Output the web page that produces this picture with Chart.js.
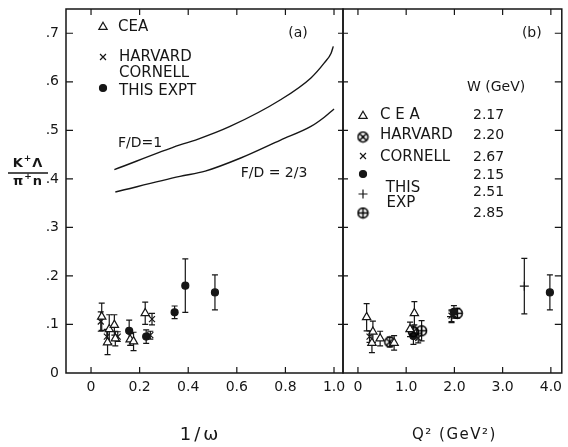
<!DOCTYPE html>
<html>
<head>
<meta charset="utf-8">
<script src="https://cdn.jsdelivr.net/npm/chart.js@4.4.0/dist/chart.umd.min.js"></script>
<style>
html, body { margin: 0; padding: 0; background: #fff; }
#wrap { position: relative; width: 568px; height: 447px; overflow: hidden; }
#boxA { position: absolute; left: 0; top: 0; width: 354px; height: 447px; }
#boxB { position: absolute; left: 333px; top: 0; width: 235px; height: 447px; }
</style>
</head>
<body>
<div id="wrap">
  <div id="boxA"><canvas id="chartA"></canvas></div>
  <div id="boxB"><canvas id="chartB"></canvas></div>
</div>
<script>
// --- panel (a): ratio vs 1/omega ---
const ceaAX = [0.044, 0.075, 0.068, 0.096, 0.100, 0.161, 0.175, 0.223];
const ceaAY = [0.116, 0.090, 0.063, 0.099, 0.071, 0.069, 0.065, 0.123];
const ceaAE = [0.028, 0.030, 0.025, 0.021, 0.015, 0.012, 0.019, 0.023];

const hcAX = [0.040, 0.065, 0.110, 0.244, 0.251];
const hcAY = [0.106, 0.075, 0.075, 0.078, 0.111];
const hcAE = [0.020, 0.015, 0.010, 0.008, 0.012];

const thisAX = [0.157, 0.227, 0.344, 0.388, 0.510];
const thisAY = [0.087, 0.075, 0.125, 0.180, 0.166];
const thisAE = [0.022, 0.014, 0.013, 0.055, 0.036];

// SU(3) curves
const fd1X = [0.096, 0.366, 0.43, 0.572, 0.78, 0.905, 0.96, 0.988, 0.997];
const fd1Y = [0.419, 0.470, 0.480, 0.508, 0.563, 0.608, 0.639, 0.659, 0.673];
const fd23X = [0.10, 0.366, 0.47, 0.616, 0.78, 0.905, 0.96, 1.0];
const fd23Y = [0.373, 0.405, 0.416, 0.443, 0.480, 0.508, 0.527, 0.544];

// --- panel (b): ratio vs Q^2 ---
const ceaBX = [0.18, 0.31, 0.29, 0.46, 0.75, 1.08, 1.17];
const ceaBY = [0.115, 0.085, 0.062, 0.071, 0.062, 0.090, 0.123];
const ceaBE = [0.028, 0.022, 0.020, 0.015, 0.015, 0.015, 0.024];

const harvBX = [0.66, 1.15];
const harvBY = [0.064, 0.085];
const harvBE = [0.010, 0.012];

const cornBX = [0.24, 1.25, 1.94];
const cornBY = [0.075, 0.072, 0.118];
const cornBE = [0.012, 0.010, 0.012];

const t215X = [1.15, 1.99, 3.98];
const t215Y = [0.076, 0.126, 0.166];
const t215E = [0.017, 0.013, 0.036];

const t251X = [1.94, 3.45];
const t251Y = [0.116, 0.179];
const t251E = [0.012, 0.057];

const t285X = [1.32, 2.06];
const t285Y = [0.087, 0.123];
const t285E = [0.021, 0.010];

const yTicks = [0, 0.1, 0.2, 0.3, 0.4, 0.5, 0.6, 0.7];
const xTicksA = [0, 0.2, 0.4, 0.6, 0.8, 1.0];
const xTicksB = [0, 1, 2, 3, 4];

const INK = '#161616';
const FONT = 'DejaVu Sans';
Chart.defaults.font.family = FONT;
Chart.defaults.color = INK;

function ringImage(kind) {
    const c = document.createElement('canvas');
    c.width = 13; c.height = 13;
    const g = c.getContext('2d');
    g.strokeStyle = '#000'; g.lineWidth = 1.5;
    g.beginPath();
    g.arc(6.5, 6.5, 5, 0, Math.PI * 2);
    if (kind === 'x') {
        g.moveTo(3, 3); g.lineTo(10, 10); g.moveTo(10, 3); g.lineTo(3, 10);
    } else {
        g.moveTo(6.5, 1.5); g.lineTo(6.5, 11.5); g.moveTo(1.5, 6.5); g.lineTo(11.5, 6.5);
    }
    g.stroke();
    return c;
}
const otimes = ringImage('x');
const oplus = ringImage('+');

const MARKS = {
    tri: { pointStyle: 'triangle', radius: 4.8, fill: '#fff' },
    cross: { pointStyle: 'crossRot', radius: 4.2, fill: INK },
    dot: { pointStyle: 'circle', radius: 3.5, fill: INK },
    plus: { pointStyle: 'cross', radius: 4.5, fill: INK },
    otimes: { pointStyle: otimes, radius: 5, fill: INK },
    oplus: { pointStyle: oplus, radius: 5, fill: INK }
};

function points(xs, ys, errs, m) {
    return {
        type: 'scatter',
        data: xs.map((x, i) => ({ x, y: ys[i] })),
        errs,
        showLine: false,
        pointStyle: m.pointStyle,
        pointRadius: m.radius,
        pointBackgroundColor: m.fill,
        pointBorderColor: INK,
        pointBorderWidth: 1.2
    };
}

function curve(xs, ys) {
    return {
        type: 'scatter',
        data: xs.map((x, i) => ({ x, y: ys[i] })),
        showLine: true,
        borderColor: INK,
        borderWidth: 1.4,
        pointRadius: 0,
        cubicInterpolationMode: 'monotone'
    };
}

function symbol(ctx, m, x, y) {
    ctx.fillStyle = m.fill;
    ctx.strokeStyle = INK;
    ctx.lineWidth = 1.2;
    Chart.helpers.drawPoint(ctx, { pointStyle: m.pointStyle, radius: m.radius, rotation: 0, borderWidth: 1.2 }, x, y);
}

function txt(ctx, s, x, y, size, align, spacing) {
    ctx.font = `${size}px ${FONT}`;
    ctx.textAlign = align || 'left';
    ctx.textBaseline = 'middle';
    ctx.letterSpacing = spacing || '0px';
    ctx.fillStyle = INK;
    ctx.fillText(s, x, y);
    ctx.letterSpacing = '0px';
}

// error bars behind the markers
const errorBars = {
    id: 'errorBars',
    beforeDatasetsDraw(chart) {
        const { ctx, scales: { x, y } } = chart;
        ctx.save();
        ctx.strokeStyle = INK;
        ctx.lineWidth = 1.2;
        chart.data.datasets.forEach(ds => {
            if (!ds.errs) return;
            ds.data.forEach((p, i) => {
                const e = ds.errs[i];
                const px = x.getPixelForValue(p.x);
                const top = y.getPixelForValue(p.y + e);
                const bot = y.getPixelForValue(p.y - e);
                ctx.beginPath();
                ctx.moveTo(px, top); ctx.lineTo(px, bot);
                ctx.moveTo(px - 3, top); ctx.lineTo(px + 3, top);
                ctx.moveTo(px - 3, bot); ctx.lineTo(px + 3, bot);
                ctx.stroke();
            });
        });
        ctx.restore();
    }
};

// frame with inward ticks
const frame = {
    id: 'frame',
    afterDraw(chart, args, o) {
        const { ctx, chartArea: a, scales: { x, y } } = chart;
        ctx.save();
        ctx.strokeStyle = INK;
        ctx.lineWidth = 1.5;
        ctx.strokeRect(a.left, a.top, a.right - a.left, a.bottom - a.top);
        ctx.lineWidth = 1.2;
        ctx.beginPath();
        o.xTicks.forEach(v => {
            const px = x.getPixelForValue(v);
            ctx.moveTo(px, a.bottom); ctx.lineTo(px, a.bottom - 6);
            ctx.moveTo(px, a.top); ctx.lineTo(px, a.top + 6);
        });
        yTicks.slice(1).forEach(v => {
            const py = y.getPixelForValue(v);
            if (o.left) { ctx.moveTo(a.left, py); ctx.lineTo(a.left + 7, py); }
            if (o.right === 'both') { ctx.moveTo(a.right - 5, py); ctx.lineTo(a.right + 5, py); }
            if (o.right === 'in') { ctx.moveTo(a.right, py); ctx.lineTo(a.right - 7, py); }
        });
        ctx.stroke();
        txt(ctx, o.title, o.titleX(a), a.bottom + 62, o.titleSize, 'center', o.titleSpacing);
        ctx.restore();
    }
};

function buildOptions(xMin, xMax, xTicks, yShow, padding, frameOpts) {
    return {
        responsive: true,
        maintainAspectRatio: false,
        animation: false,
        events: [],
        layout: { padding },
        plugins: { legend: { display: false }, tooltip: { enabled: false }, frame: frameOpts },
        scales: {
            x: {
                type: 'linear', min: xMin, max: xMax,
                grid: { display: false, drawTicks: false },
                border: { display: false },
                afterBuildTicks: s => { s.ticks = xTicks.map(v => ({ value: v })); },
                afterFit: s => { s.height = 74; s.paddingLeft = 0; s.paddingRight = 0; },
                ticks: {
                    padding: 6, maxRotation: 0, autoSkip: false,
                    font: { size: 14 }, color: INK,
                    callback: v => v === 0 ? '0' : v.toFixed(1)
                }
            },
            y: {
                type: 'linear', min: 0, max: 0.75, display: yShow,
                grid: { display: false, drawTicks: false },
                border: { display: false },
                afterBuildTicks: s => { s.ticks = yTicks.map(v => ({ value: v })); },
                afterFit: s => { s.width = yShow ? 66 : 0; s.paddingTop = 0; s.paddingBottom = 0; },
                ticks: {
                    padding: 7, font: { size: 14 }, color: INK,
                    callback: v => v === 0 ? '0' : '.' + Math.round(v * 10)
                }
            }
        }
    };
}

function fraction(ctx, parts, cx, y) {
    const fonts = ['bold 13px ' + FONT, 'bold 9px ' + FONT];
    let w = 0;
    parts.forEach(p => { ctx.font = fonts[p[1]]; w += ctx.measureText(p[0]).width + 1; });
    let x = cx - w / 2;
    ctx.textAlign = 'left'; ctx.textBaseline = 'middle'; ctx.fillStyle = INK;
    parts.forEach(p => {
        ctx.font = fonts[p[1]];
        ctx.fillText(p[0], x, p[1] ? y - 5 : y);
        x += ctx.measureText(p[0]).width + 1;
    });
}

// legend and labels in panel (a)
const legendA = {
    id: 'legendA',
    afterDraw(chart) {
        const { ctx, chartArea: a } = chart;
        ctx.save();
        symbol(ctx, MARKS.tri, a.left + 37, a.top + 18);
        txt(ctx, 'CEA', a.left + 52, a.top + 18, 15);
        symbol(ctx, MARKS.cross, a.left + 37, a.top + 48);
        txt(ctx, 'HARVARD', a.left + 53, a.top + 48, 15);
        txt(ctx, 'CORNELL', a.left + 53, a.top + 64, 15);
        symbol(ctx, MARKS.dot, a.left + 37, a.top + 79);
        txt(ctx, 'THIS EXPT', a.left + 53, a.top + 82, 15);
        txt(ctx, '(a)', a.right - 45, a.top + 24, 14, 'center');
        txt(ctx, 'F/D=1', a.left + 74, a.top + 134, 14, 'center');
        txt(ctx, 'F/D = 2/3', a.left + 208, a.top + 164, 14, 'center');

        // y axis title as a fraction
        const cx = a.left - 38, ly = a.top + 164;
        fraction(ctx, [['K', 0], ['+', 1], ['Λ', 0]], cx, ly - 9);
        fraction(ctx, [['π', 0], ['+', 1], ['n', 0]], cx, ly + 9);
        ctx.strokeStyle = INK; ctx.lineWidth = 1.3;
        ctx.beginPath(); ctx.moveTo(cx - 20, ly); ctx.lineTo(cx + 20, ly); ctx.stroke();
        ctx.restore();
    }
};

// legend in panel (b)
const legendB = {
    id: 'legendB',
    afterDraw(chart) {
        const { ctx, chartArea: a } = chart;
        ctx.save();
        txt(ctx, '(b)', a.right - 30, a.top + 24, 14, 'center');
        txt(ctx, 'W (GeV)', a.left + 124, a.top + 78, 14);
        const rows = [
            [MARKS.tri, 'C E A', '2.17', 107, 106],
            [MARKS.otimes, 'HARVARD', '2.20', 128, 126],
            [MARKS.cross, 'CORNELL', '2.67', 147, 148],
            [MARKS.dot, '', '2.15', 165, 166],
            [MARKS.plus, '', '2.51', 185, 183],
            [MARKS.oplus, '', '2.85', 204, 204]
        ];
        rows.forEach(r => {
            symbol(ctx, r[0], a.left + 20, a.top + r[3]);
            if (r[1]) txt(ctx, r[1], a.left + 37, a.top + r[4], 15);
            txt(ctx, r[2], a.left + 130, a.top + r[4], 14);
        });
        txt(ctx, 'THIS', a.left + 60, a.top + 179, 15, 'center');
        txt(ctx, 'EXP', a.left + 58, a.top + 194, 15, 'center');
        ctx.restore();
    }
};

new Chart(document.getElementById('chartA'), {
    type: 'scatter',
    data: {
        datasets: [
            curve(fd1X, fd1Y),
            curve(fd23X, fd23Y),
            points(ceaAX, ceaAY, ceaAE, MARKS.tri),
            points(hcAX, hcAY, hcAE, MARKS.cross),
            points(thisAX, thisAY, thisAE, MARKS.dot)
        ]
    },
    options: buildOptions(-0.103, 1.037, xTicksA, true, { left: 0, top: 9, right: 11, bottom: 0 }, {
        xTicks: xTicksA, left: true, right: 'both',
        title: '1/ω', titleSize: 18, titleSpacing: '3px', titleX: a => (a.left + a.right) / 2 - 4
    }),
    plugins: [errorBars, frame, legendA]
});

new Chart(document.getElementById('chartB'), {
    type: 'scatter',
    data: {
        datasets: [
            points(ceaBX, ceaBY, ceaBE, MARKS.tri),
            points(harvBX, harvBY, harvBE, MARKS.otimes),
            points(cornBX, cornBY, cornBE, MARKS.cross),
            points(t215X, t215Y, t215E, MARKS.dot),
            points(t251X, t251Y, t251E, MARKS.plus),
            points(t285X, t285Y, t285E, MARKS.oplus)
        ]
    },
    options: buildOptions(-0.31, 4.227, xTicksB, false, { left: 10, top: 9, right: 5, bottom: 0 }, {
        xTicks: xTicksB, left: false, right: 'in',
        title: 'Q² (GeV²)', titleSize: 15, titleSpacing: '1.5px', titleX: a => (a.left + a.right) / 2 + 2
    }),
    plugins: [errorBars, frame, legendB]
});
</script>
</body>
</html>
